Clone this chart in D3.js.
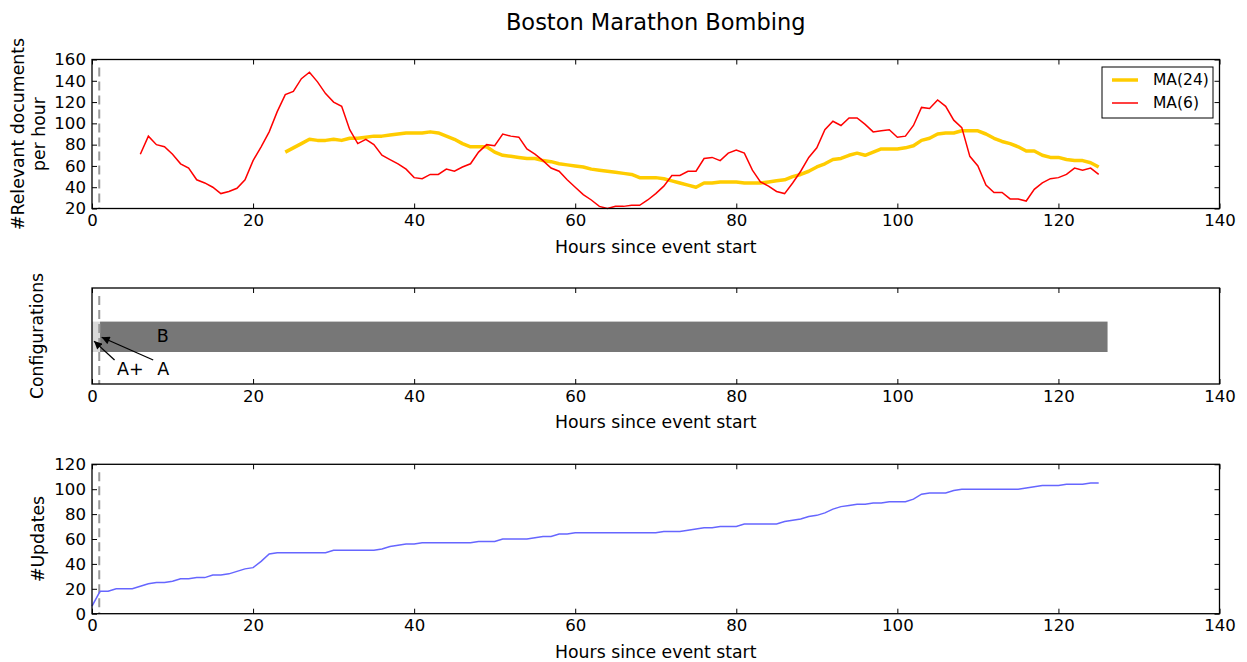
<!DOCTYPE html>
<html>
<head>
<meta charset="utf-8">
<script src="https://cdn.jsdelivr.net/npm/d3@7"></script>
<style>
    body { margin: 0; background: #fff; }
    text { font-family: 'DejaVu Sans', sans-serif; fill: #000; }
</style>
</head>
<body>
<div id="chart"></div>
<script>
'use strict';

// Texts
const chartTitle = 'Boston Marathon Bombing';
const xLabel = 'Hours since event start';

// Ticks
const xTicks = [0, 20, 40, 60, 80, 100, 120, 140];
const docsTicks = [20, 40, 60, 80, 100, 120, 140, 160];
const updateTicks = [0, 20, 40, 60, 80, 100, 120];

// Event start marker (hours)
const eventHour = 0.9;

// MA(6) relevant documents per hour, first value at hour 6
const ma6Start = 6;
const ma6 = [
    71, 88, 80, 78, 71, 62, 58, 47, 44, 40,
    34, 36, 39, 47, 65, 78, 92, 111, 127, 130,
    142, 148, 139, 128, 120, 116, 94, 81, 85, 80,
    70, 66, 62, 57, 49, 48, 52, 52, 57, 55,
    59, 62, 73, 80, 79, 90, 88, 87, 76, 71,
    65, 58, 55, 47, 40, 33, 28, 22, 20, 22,
    22, 23, 23, 28, 34, 41, 51, 51, 55, 55,
    67, 68, 65, 72, 75, 72, 56, 45, 41, 36,
    34, 44, 55, 68, 77, 94, 102, 98, 105, 105,
    99, 92, 93, 94, 87, 88, 98, 115, 114, 122,
    116, 103, 96, 69, 60, 42, 35, 35, 29, 29,
    27, 38, 44, 48, 49, 52, 58, 56, 58, 52
];

// MA(24) relevant documents per hour, first value at hour 24
const ma24Start = 24;
const ma24 = [
    73, 77, 81, 85, 84, 84, 85, 84, 86, 86,
    87, 88, 88, 89, 90, 91, 91, 91, 92, 91,
    88, 85, 81, 78, 78, 78, 73, 70, 69, 68,
    67, 67, 65, 64, 62, 61, 60, 59, 57, 56,
    55, 54, 53, 52, 49, 49, 49, 48, 46, 44,
    42, 40, 44, 44, 45, 45, 45, 44, 44, 44,
    45, 46, 47, 50, 52, 55, 59, 62, 66, 67,
    70, 72, 70, 73, 76, 76, 76, 77, 79, 84,
    86, 90, 91, 91, 93, 93, 93, 90, 86, 83,
    81, 78, 74, 74, 70, 68, 68, 66, 65, 65,
    63, 59
];

// Cumulative number of updates, first value at hour 0
const updatesStart = 0;
const updates = [
    6, 18, 18, 20, 20, 20, 22, 24, 25, 25,
    26, 28, 28, 29, 29, 31, 31, 32, 34, 36,
    37, 42, 48, 49, 49, 49, 49, 49, 49, 49,
    51, 51, 51, 51, 51, 51, 52, 54, 55, 56,
    56, 57, 57, 57, 57, 57, 57, 57, 58, 58,
    58, 60, 60, 60, 60, 61, 62, 62, 64, 64,
    65, 65, 65, 65, 65, 65, 65, 65, 65, 65,
    65, 66, 66, 66, 67, 68, 69, 69, 70, 70,
    70, 72, 72, 72, 72, 72, 74, 75, 76, 78,
    79, 81, 84, 86, 87, 88, 88, 89, 89, 90,
    90, 90, 92, 96, 97, 97, 97, 99, 100, 100,
    100, 100, 100, 100, 100, 100, 101, 102, 103, 103,
    103, 104, 104, 104, 105, 105
];

// Configurations (hour ranges)
const configNames = ['A+', 'B'];
const configFrom = [0, 1];
const configTo = [1, 126.1];
const configLow = 1.0;
const configHigh = 1.95;

// Configuration annotations: label, text anchor point, arrow tail, arrow head
const noteLabels = ['A+', 'A'];
const noteTextAt = [[3.1, 0.28], [8.1, 0.28]];
const noteTail = [[2.8, 0.75], [7.6, 0.75]];
const noteHead = [[0.25, 1.34], [1.2, 1.46]];
const bLabelAt = [8.8, 1.5];

/*
Build series
*/
function toSeries(start, values) {
    return values.map((v, i) => ({x: start + i, y: v}));
}

// Config svg
const W = 1247;
const H = 662;
const svg = d3.select('#chart')
    .append('svg')
    .attr('width', W)
    .attr('height', H);

svg.append('defs').append('marker')
    .attr('id', 'arrowHead')
    .attr('viewBox', '0 0 10 10')
    .attr('refX', 10)
    .attr('refY', 5)
    .attr('markerUnits', 'userSpaceOnUse')
    .attr('markerWidth', 9)
    .attr('markerHeight', 8)
    .attr('orient', 'auto')
    .append('path')
    .attr('d', 'M0,0 L10,5 L0,10 z')
    .attr('fill', '#000');

// Layout
const left = 92;
const right = 1219.5;
const panels = {
    docs: {top: 59.5, bottom: 208.5},
    conf: {top: 288, bottom: 384},
    upd: {top: 464.3, bottom: 613.7}
};

const xScale = d3.scaleLinear().domain([0, 140]).range([left, right]);

const TICK_FONT = '16.6px';
const LABEL_FONT = '17.3px';

/*
Axis frame with inward ticks on all four sides
*/
function drawFrame(p, yScale, yTicks) {
    const g = svg.append('g');

    const bottomAxis = d3.axisBottom(xScale).tickValues(xTicks)
        .tickSizeInner(-5).tickSizeOuter(0).tickPadding(6);
    const topAxis = d3.axisTop(xScale).tickValues(xTicks)
        .tickSizeInner(-5).tickSizeOuter(0).tickFormat('');

    g.append('g').attr('transform', `translate(0,${p.bottom})`).call(bottomAxis);
    g.append('g').attr('transform', `translate(0,${p.top})`).call(topAxis);

    if (yScale) {
        const leftAxis = d3.axisLeft(yScale).tickValues(yTicks)
            .tickSizeInner(-5).tickSizeOuter(0).tickPadding(6);
        const rightAxis = d3.axisRight(yScale).tickValues(yTicks)
            .tickSizeInner(-5).tickSizeOuter(0).tickFormat('');
        g.append('g').attr('transform', `translate(${left},0)`).call(leftAxis);
        g.append('g').attr('transform', `translate(${right},0)`).call(rightAxis);
    }

    g.selectAll('.domain').remove();
    g.selectAll('.tick line').attr('stroke', '#000').attr('stroke-width', 1);
    g.selectAll('.tick text')
        .style('font-size', TICK_FONT)
        .style('font-family', "'DejaVu Sans', sans-serif")
        .attr('fill', '#000');

    // Box
    g.append('rect')
        .attr('x', left)
        .attr('y', p.top)
        .attr('width', right - left)
        .attr('height', p.bottom - p.top)
        .attr('fill', 'none')
        .attr('stroke', '#000')
        .attr('stroke-width', 1.3);

    // x label
    g.append('text')
        .attr('x', (left + right) / 2)
        .attr('y', p.bottom + 44)
        .attr('text-anchor', 'middle')
        .style('font-size', LABEL_FONT)
        .text(xLabel);
}

/*
Dashed event marker
*/
function drawEventLine(p) {
    svg.append('line')
        .attr('x1', xScale(eventHour))
        .attr('x2', xScale(eventHour))
        .attr('y1', p.top + 8)
        .attr('y2', p.bottom)
        .attr('stroke', '#999')
        .attr('stroke-width', 2)
        .attr('stroke-dasharray', '9,5');
}

/*
Rotated y label (one or more lines)
*/
function drawYLabel(p, lines, xs) {
    const cy = (p.top + p.bottom) / 2;
    lines.forEach((l, i) => {
        svg.append('text')
            .attr('transform', `translate(${xs[i]},${cy}) rotate(-90)`)
            .attr('text-anchor', 'middle')
            .attr('dy', '0.35em')
            .style('font-size', LABEL_FONT)
            .text(l);
    });
}

// Title
svg.append('text')
    .attr('x', (left + right) / 2)
    .attr('y', 30)
    .attr('text-anchor', 'middle')
    .style('font-size', '22.5px')
    .text(chartTitle);

/* ---------- Panel 1: relevant documents ---------- */
const p1 = panels.docs;
const yDocs = d3.scaleLinear().domain([20, 160]).range([p1.bottom, p1.top]);
const lineDocs = d3.line().x(d => xScale(d.x)).y(d => yDocs(d.y));

drawEventLine(p1);

svg.append('path')
    .datum(toSeries(ma24Start, ma24))
    .attr('d', lineDocs)
    .attr('fill', 'none')
    .attr('stroke', '#ffcc00')
    .attr('stroke-width', 3.5)
    .attr('stroke-linejoin', 'round');

svg.append('path')
    .datum(toSeries(ma6Start, ma6))
    .attr('d', lineDocs)
    .attr('fill', 'none')
    .attr('stroke', '#ff0000')
    .attr('stroke-width', 1.5);

drawFrame(p1, yDocs, docsTicks);
drawYLabel(p1, ['#Relevant documents', 'per hour'], [18, 39]);

// Legend
const legend = svg.append('g').attr('transform', 'translate(1102,67)');
legend.append('rect')
    .attr('width', 111)
    .attr('height', 51)
    .attr('fill', '#fff')
    .attr('stroke', '#000')
    .attr('stroke-width', 1);
const legendItems = [
    {name: 'MA(24)', color: '#ffcc00', w: 3.5, y: 13},
    {name: 'MA(6)', color: '#ff0000', w: 1.5, y: 36}
];
legendItems.forEach(it => {
    legend.append('line')
        .attr('x1', 10).attr('x2', 36)
        .attr('y1', it.y).attr('y2', it.y)
        .attr('stroke', it.color)
        .attr('stroke-width', it.w);
    legend.append('text')
        .attr('x', 51)
        .attr('y', it.y)
        .attr('dy', '0.35em')
        .style('font-size', '15.5px')
        .text(it.name);
});

/* ---------- Panel 2: configurations ---------- */
const p2 = panels.conf;
const yConf = d3.scaleLinear().domain([0, 3]).range([p2.bottom, p2.top]);
const confColors = {'A+': '#d9d9d9', 'B': '#777777'};

svg.selectAll('.conf')
    .data(configNames)
    .join('rect')
    .attr('class', 'conf')
    .attr('x', (d, i) => xScale(configFrom[i]))
    .attr('width', (d, i) => xScale(configTo[i]) - xScale(configFrom[i]))
    .attr('y', yConf(configHigh))
    .attr('height', yConf(configLow) - yConf(configHigh))
    .attr('fill', d => confColors[d]);

drawEventLine(p2);

svg.append('text')
    .attr('x', xScale(bLabelAt[0]))
    .attr('y', yConf(bLabelAt[1]))
    .attr('text-anchor', 'middle')
    .attr('dy', '0.35em')
    .style('font-size', '17.5px')
    .text('B');

noteLabels.forEach((lab, i) => {
    svg.append('line')
        .attr('x1', xScale(noteTail[i][0]))
        .attr('y1', yConf(noteTail[i][1]))
        .attr('x2', xScale(noteHead[i][0]))
        .attr('y2', yConf(noteHead[i][1]))
        .attr('stroke', '#000')
        .attr('stroke-width', 1.3)
        .attr('marker-end', 'url(#arrowHead)');
    svg.append('text')
        .attr('x', xScale(noteTextAt[i][0]))
        .attr('y', yConf(noteTextAt[i][1]))
        .style('font-size', '17.5px')
        .text(lab);
});

drawFrame(p2, null, null);
drawYLabel(p2, ['Configurations'], [37]);

/* ---------- Panel 3: updates ---------- */
const p3 = panels.upd;
const yUpd = d3.scaleLinear().domain([0, 120]).range([p3.bottom, p3.top]);
const lineUpd = d3.line().x(d => xScale(d.x)).y(d => yUpd(d.y));

drawEventLine(p3);

svg.append('path')
    .datum(toSeries(updatesStart, updates))
    .attr('d', lineUpd)
    .attr('fill', 'none')
    .attr('stroke', '#6666ff')
    .attr('stroke-width', 1.5);

drawFrame(p3, yUpd, updateTicks);
drawYLabel(p3, ['#Updates'], [38]);
</script>
</body>
</html>
